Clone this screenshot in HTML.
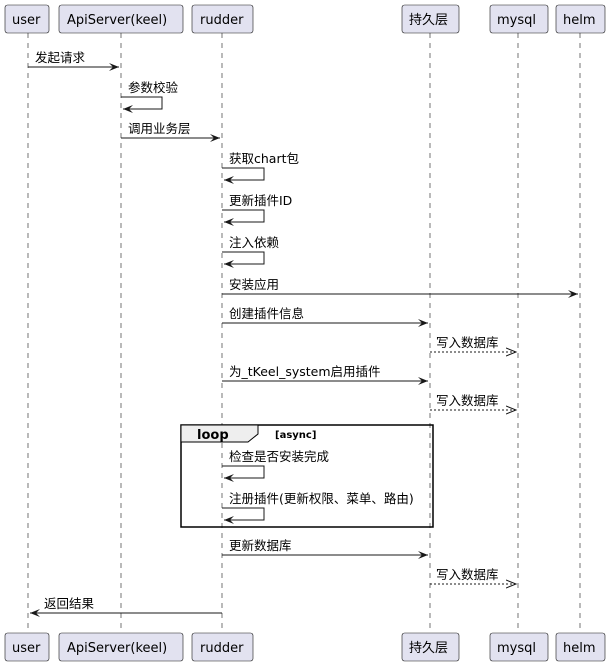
<!DOCTYPE html>
<html><head><meta charset="utf-8"><style>
html,body{margin:0;padding:0;background:#fff;}
text{font-family:"DejaVu Sans","Noto Sans CJK SC",sans-serif;font-size:12.5px;fill:#000;}
.p{font-size:13px;}
</style></head><body>
<svg width="609" height="665" xmlns="http://www.w3.org/2000/svg">
<defs>
<marker id="a" markerWidth="12" markerHeight="10" refX="10" refY="5" orient="auto" markerUnits="userSpaceOnUse">
<polygon points="0,1 10,5 0,9 4,5" fill="#181818"/></marker>
<marker id="o" markerWidth="12" markerHeight="10" refX="10" refY="5" orient="auto" markerUnits="userSpaceOnUse">
<polyline points="0,1 10,5 0,9" fill="none" stroke="#181818" stroke-width="1"/></marker>
</defs>
<g stroke="#181818" stroke-width="0.6" stroke-dasharray="5,5">
<line x1="28" y1="33" x2="28" y2="633"/>
<line x1="121" y1="33" x2="121" y2="633"/>
<line x1="222" y1="33" x2="222" y2="633"/>
<line x1="430" y1="33" x2="430" y2="633"/>
<line x1="518" y1="33" x2="518" y2="633"/>
<line x1="580" y1="33" x2="580" y2="633"/>
</g>
<g fill="#E2E2F0" stroke="#181818" stroke-width="0.6">
<rect x="5" y="5" width="44" height="28" rx="2.5"/><rect x="5" y="633" width="44" height="28" rx="2.5"/>
<rect x="59" y="5" width="124" height="28" rx="2.5"/><rect x="59" y="633" width="124" height="28" rx="2.5"/>
<rect x="192" y="5" width="61" height="28" rx="2.5"/><rect x="192" y="633" width="61" height="28" rx="2.5"/>
<rect x="402" y="5" width="57" height="28" rx="2.5"/><rect x="402" y="633" width="57" height="28" rx="2.5"/>
<rect x="490" y="5" width="58" height="28" rx="2.5"/><rect x="490" y="633" width="58" height="28" rx="2.5"/>
<rect x="556" y="5" width="49" height="28" rx="2.5"/><rect x="556" y="633" width="49" height="28" rx="2.5"/>
</g>
<text class="p" x="12" y="24">user</text><text class="p" x="12" y="652">user</text>
<text class="p" x="67" y="24">ApiServer(keel)</text><text class="p" x="67" y="652">ApiServer(keel)</text>
<text class="p" x="200" y="24">rudder</text><text class="p" x="200" y="652">rudder</text>
<text class="p" x="409" y="24">持久层</text><text class="p" x="409" y="652">持久层</text>
<text class="p" x="497" y="24">mysql</text><text class="p" x="497" y="652">mysql</text>
<text class="p" x="563" y="24">helm</text><text class="p" x="563" y="652">helm</text>
<rect x="181" y="425" width="252" height="102" fill="none" stroke="#000" stroke-width="1.5"/>
<polygon points="181,425 258,425 258,434 248,442 181,442" fill="#EEEEEE" stroke="#000" stroke-width="1"/>
<text x="197" y="439" style="font-weight:bold;font-size:13px">loop</text>
<text x="275" y="438" style="font-weight:bold;font-size:10px">[async]</text>
<g stroke="#181818" stroke-width="1" fill="none">
<line x1="28" y1="67" x2="119" y2="67" marker-end="url(#a)"/>
<polyline points="121,97 162,97 162,109 123,109" marker-end="url(#a)"/>
<line x1="121" y1="138" x2="220" y2="138" marker-end="url(#a)"/>
<polyline points="222,168 264,168 264,180 224,180" marker-end="url(#a)"/>
<polyline points="222,210 264,210 264,222 224,222" marker-end="url(#a)"/>
<polyline points="222,252 264,252 264,264 224,264" marker-end="url(#a)"/>
<line x1="222" y1="294" x2="578" y2="294" marker-end="url(#a)"/>
<line x1="222" y1="323" x2="428" y2="323" marker-end="url(#a)"/>
<line x1="430" y1="352" x2="516" y2="352" stroke-dasharray="2,2" marker-end="url(#o)"/>
<line x1="222" y1="381" x2="428" y2="381" marker-end="url(#a)"/>
<line x1="430" y1="410" x2="516" y2="410" stroke-dasharray="2,2" marker-end="url(#o)"/>
<polyline points="222,466 264,466 264,478 224,478" marker-end="url(#a)"/>
<polyline points="222,508 264,508 264,520 224,520" marker-end="url(#a)"/>
<line x1="222" y1="555" x2="428" y2="555" marker-end="url(#a)"/>
<line x1="430" y1="584" x2="516" y2="584" stroke-dasharray="2,2" marker-end="url(#o)"/>
<line x1="222" y1="613" x2="30" y2="613" marker-end="url(#a)"/>
</g>
<text x="35" y="62">发起请求</text>
<text x="128" y="92">参数校验</text>
<text x="128" y="133">调用业务层</text>
<text x="229" y="163">获取chart包</text>
<text x="229" y="205">更新插件ID</text>
<text x="229" y="247">注入依赖</text>
<text x="229" y="289">安装应用</text>
<text x="229" y="318">创建插件信息</text>
<text x="436" y="347">写入数据库</text>
<text x="229" y="376">为_tKeel_system启用插件</text>
<text x="436" y="405">写入数据库</text>
<text x="229" y="461">检查是否安装完成</text>
<text x="229" y="503">注册插件(更新权限、菜单、路由)</text>
<text x="229" y="550">更新数据库</text>
<text x="436" y="579">写入数据库</text>
<text x="44" y="608">返回结果</text>
</svg>
</body></html>
